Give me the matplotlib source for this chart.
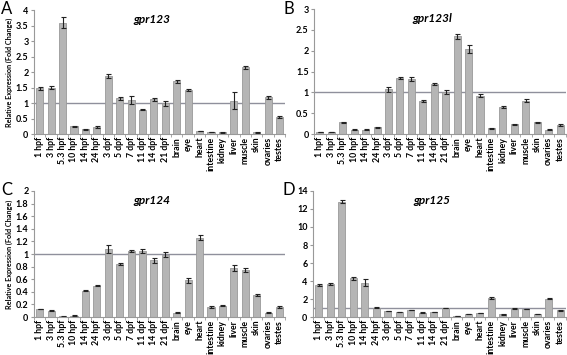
import matplotlib
matplotlib.use("Agg")
import matplotlib.pyplot as plt
from matplotlib.ticker import FixedLocator

plt.rcParams['font.family'] = ['Lato', 'DejaVu Sans']

tissues = ["1 hpf", "3 hpf", "5.3 hpf", "10 hpf", "14 hpf", "24 hpf", "3 dpf",
           "5 dpf", "7 dpf", "11 dpf", "14 dpf", "21 dpf", "brain", "eye", "heart",
           "intestine", "kidney", "liver", "muscle", "skin", "ovaries", "testes"]

# gpr123
gpr123 = [1.48, 1.5, 3.6, 0.25, 0.15, 0.23, 1.88, 1.15, 1.1, 0.78, 1.12, 1.0,
          1.7, 1.42, 0.1, 0.06, 0.05, 1.08, 2.15, 0.05, 1.18, 0.55]
gpr123_err = [0.05, 0.06, 0.18, 0.02, 0.01, 0.02, 0.07, 0.05, 0.12, 0.02, 0.05, 0.08,
              0.04, 0.02, 0.01, 0.01, 0.01, 0.28, 0.05, 0.01, 0.04, 0.03]
# gpr123l
gpr123l = [0.05, 0.05, 0.28, 0.1, 0.1, 0.16, 1.07, 1.35, 1.32, 0.8, 1.2, 1.0,
           2.35, 2.04, 0.92, 0.14, 0.65, 0.23, 0.8, 0.28, 0.1, 0.22]
gpr123l_err = [0.01, 0.01, 0.02, 0.01, 0.01, 0.01, 0.05, 0.02, 0.05, 0.02, 0.03, 0.05,
               0.06, 0.1, 0.03, 0.01, 0.03, 0.01, 0.03, 0.01, 0.01, 0.02]
# gpr124
gpr124 = [0.13, 0.1, 0.01, 0.02, 0.42, 0.5, 1.08, 0.84, 1.05, 1.05, 0.9, 0.99,
          0.07, 0.58, 1.26, 0.16, 0.18, 0.78, 0.74, 0.35, 0.07, 0.16]
gpr124_err = [0.005, 0.01, 0.005, 0.005, 0.01, 0.01, 0.06, 0.02, 0.02, 0.03, 0.04, 0.04,
              0.01, 0.04, 0.04, 0.01, 0.01, 0.05, 0.03, 0.02, 0.005, 0.01]
# gpr125
gpr125 = [3.6, 3.7, 12.8, 4.3, 3.8, 1.05, 0.65, 0.55, 0.8, 0.5, 0.55, 1.0,
          0.1, 0.35, 0.45, 2.1, 0.3, 0.95, 0.9, 0.3, 2.05, 0.75]
gpr125_err = [0.12, 0.12, 0.15, 0.15, 0.4, 0.03, 0.03, 0.03, 0.03, 0.03, 0.03, 0.03,
              0.02, 0.02, 0.02, 0.15, 0.03, 0.03, 0.03, 0.02, 0.04, 0.05]

# letter, gene, values, errors, axes rect, ymax, tick step, y label, letter xy
panels = [
    ("A", "gpr123", gpr123, gpr123_err, [0.060, 0.6225, 0.443, 0.349], 4, 0.5, True, (0.002, 0.998)),
    ("B", "gpr123l", gpr123l, gpr123l_err, [0.554, 0.6225, 0.444, 0.352], 3, 0.5, False, (0.500, 0.998)),
    ("C", "gpr124", gpr124, gpr124_err, [0.060, 0.107, 0.443, 0.355], 2, 0.2, True, (0.002, 0.487)),
    ("D", "gpr125", gpr125, gpr125_err, [0.552, 0.107, 0.446, 0.355], 14, 2, False, (0.498, 0.487)),
]

fig = plt.figure(figsize=(5.67, 3.55), dpi=100)

for letter, gene, vals, errs, pos, ymax, step, ylab, lxy in panels:
    ax = fig.add_axes(pos)
    x = range(len(tissues))
    ax.bar(x, vals, width=0.62, color="#b5b5b5", edgecolor="#999999", linewidth=0.6,
           yerr=errs, error_kw=dict(ecolor="#222222", elinewidth=0.8, capsize=1.8, capthick=0.8))
    ax.axhline(1, color="#8f909c", linewidth=1.0, zorder=0.5)
    ax.set_xlim(-0.5, len(tissues) - 0.5)
    ax.set_ylim(0, ymax)
    ticks = [round(i * step, 2) for i in range(int(round(ymax / step)) + 1)]
    ax.set_yticks(ticks)
    ax.set_yticklabels([("%g" % t) for t in ticks], fontsize=6.5, fontweight="bold")
    ax.set_xticks(list(x))
    ax.set_xticklabels(tissues, rotation=90, fontsize=6.3, fontweight="bold")
    ax.xaxis.set_minor_locator(FixedLocator([i - 0.5 for i in range(len(tissues) + 1)]))
    ax.tick_params(axis="x", which="major", length=0, pad=2)
    ax.tick_params(axis="x", which="minor", length=2, color="#999999")
    ax.tick_params(axis="y", length=2, color="#999999", pad=2)
    for s in ["top", "right"]:
        ax.spines[s].set_visible(False)
    for s in ["left", "bottom"]:
        ax.spines[s].set_color("#999999")
        ax.spines[s].set_linewidth(0.8)
    ax.text(0.47, 0.97, gene, transform=ax.transAxes, ha="center", va="top",
            fontsize=8.5, fontweight="bold", fontstyle="italic")
    if ylab:
        ax.set_ylabel("Relative Expression (Fold Change)", fontsize=5.2,
                      fontweight="bold", labelpad=2)
    fig.text(lxy[0], lxy[1], letter, fontsize=12, ha="left", va="top")

fig.savefig("out.png", dpi=100)
